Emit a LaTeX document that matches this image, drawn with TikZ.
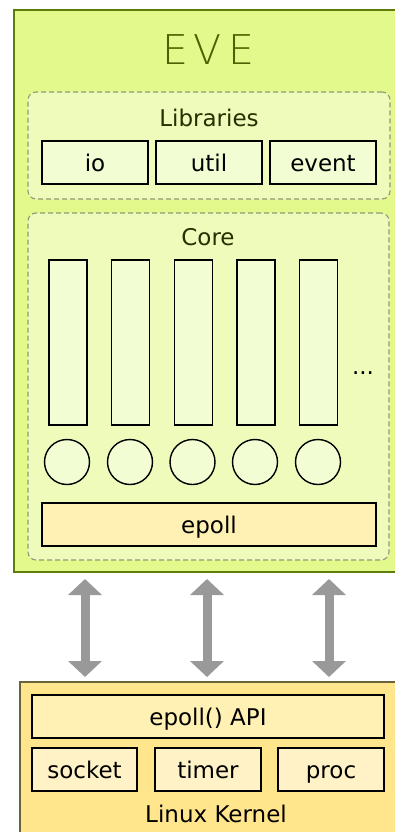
\documentclass[tikz,border=0pt]{standalone}
\usepackage{fontspec}
\setmainfont{DejaVu Sans}
\newfontfamily\evefont{DejaVuSans-ExtraLight.ttf}
\usetikzlibrary{arrows.meta}
\definecolor{evefill}{HTML}{E4F98C}
\definecolor{eveline}{HTML}{5E7D0C}
\definecolor{grpfill}{HTML}{EEFBBA}
\definecolor{grpline}{HTML}{8E9A78}
\definecolor{boxfill}{HTML}{F2FDD4}
\definecolor{epfill}{HTML}{FFF0B4}
\definecolor{kfill}{HTML}{FFE68C}
\definecolor{kline}{HTML}{6A6238}
\definecolor{kbox}{HTML}{FFF2C6}
\definecolor{titlecol}{HTML}{4A6300}
\definecolor{labcol}{HTML}{263000}
\definecolor{arrcol}{HTML}{999999}
\tikzset{
  txt/.style={font=\fontsize{23}{27}\selectfont, text height=18pt, text depth=1pt},
  outerbox/.style={draw=eveline, fill=evefill, line width=2pt, inner sep=0pt},
  kernelbox/.style={draw=kline, fill=kfill, line width=1.6pt, inner sep=0pt},
  grp/.style={draw=grpline, fill=grpfill, dashed, dash pattern=on 5pt off 3pt, line width=1.1pt, rounded corners=8pt, inner sep=0pt},
  libbox/.style={draw=black, fill=boxfill, line width=1.4pt, inner sep=0pt, minimum height=43pt, txt},
  bar/.style={draw=black, fill=boxfill, line width=1.4pt, inner sep=0pt, minimum width=38pt, minimum height=165pt},
  thread/.style={draw=black, fill=boxfill, line width=1.4pt, circle, inner sep=0pt, minimum size=45pt},
  ebox/.style={draw=black, fill=epfill, line width=1.4pt, inner sep=0pt, minimum height=43pt, txt},
  kb/.style={draw=black, fill=kbox, line width=1.4pt, inner sep=0pt, minimum height=43pt, txt},
  lab/.style={txt, text=labcol},
  bigarrow/.style={draw=arrcol, line width=9pt, {Triangle[width=33pt,length=16pt]}-{Triangle[width=33pt,length=16pt]}}
}
\begin{document}
\begin{tikzpicture}[x=1pt,y=-1pt]
\useasboundingbox (0,0) rectangle (395,832);
\clip (0,0) rectangle (395,832);
% EVE outer box
\node[outerbox, minimum width=390pt, minimum height=562pt] (eve) at (209,291) {};
\node[text=titlecol, font=\evefont\fontsize{41}{45}\selectfont] (title) at (208,50) {E\hspace{6pt}V\hspace{6pt}E};
% Libraries
\node[grp, minimum width=362pt, minimum height=107pt] (libs) at (209,145.5) {};
\node[lab] (libslab) at (209,118) {Libraries};
\node[libbox, minimum width=106pt] (io) at (95,162.5) {io};
\node[libbox, minimum width=106pt] (util) at (209,162.5) {util};
\node[libbox, minimum width=106pt] (event) at (323,162.5) {event};
% Core
\node[grp, minimum width=361pt, minimum height=347pt] (core) at (208.5,386.5) {};
\node[lab] (corelab) at (208,237) {Core};
\node[bar] (b1) at (68,342.5) {};
\node[bar] (b2) at (130.5,342.5) {};
\node[bar] (b3) at (193.5,342.5) {};
\node[bar] (b4) at (256,342.5) {};
\node[bar] (b5) at (318.5,342.5) {};
\node[lab, text=black] (dots) at (363,365.5) {...};
\node[thread] (c1) at (67,462) {};
\node[thread] (c2) at (130,462) {};
\node[thread] (c3) at (192.5,462) {};
\node[thread] (c4) at (255,462) {};
\node[thread] (c5) at (318,462) {};
\node[ebox, minimum width=334pt] (epoll) at (209,524.5) {epoll};
% Kernel
\node[kernelbox, minimum width=392pt, minimum height=160pt] (kernel) at (216,762) {};
\node[ebox, minimum width=352pt] (api) at (208,716.5) {epoll() API};
\node[kb, minimum width=105pt] (socket) at (84.5,769.5) {socket};
\node[kb, minimum width=106pt] (timer) at (208,769.5) {timer};
\node[kb, minimum width=106pt] (proc) at (331,769.5) {proc};
\node[lab, text=black] (klab) at (216,813.5) {Linux Kernel};
% arrows
\coordinate (a1s) at (85,579);
\coordinate (a1e) at (85,677);
\coordinate (a2s) at (207,579);
\coordinate (a2e) at (207,677);
\coordinate (a3s) at (329,579);
\coordinate (a3e) at (329,677);
\draw[bigarrow] (a1s) -- (a1e);
\draw[bigarrow] (a2s) -- (a2e);
\draw[bigarrow] (a3s) -- (a3e);
\end{tikzpicture}
\end{document}
